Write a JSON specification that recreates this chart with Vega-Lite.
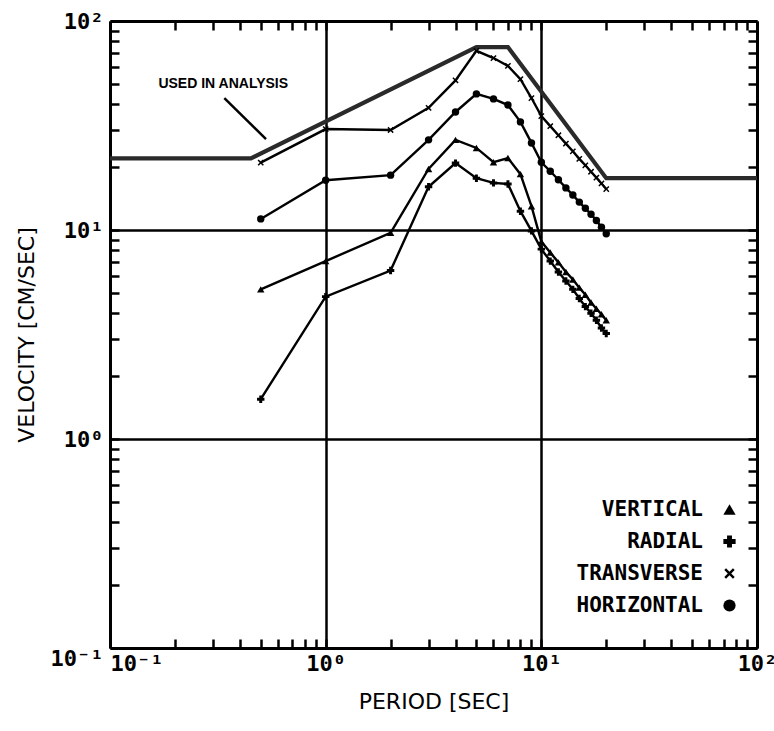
{
  "$schema": "https://vega.github.io/schema/vega-lite/v6.json",
  "width": 647,
  "height": 627,
  "autosize": {"type": "none"},
  "padding": {"left": 110, "top": 21, "right": 17, "bottom": 83},
  "background": "white",
  "config": {
    "view": {"stroke": null},
    "font": "Liberation Sans"
  },
  "datasets": {
    "envelope": [
      {"period": 0.1, "velocity": 22},
      {"period": 0.45, "velocity": 22},
      {"period": 5, "velocity": 75},
      {"period": 7, "velocity": 75},
      {"period": 20, "velocity": 17.7},
      {"period": 100, "velocity": 17.7}
    ],
    "spectra": [
      {"component": "TRANSVERSE", "period": 0.5, "velocity": 21},
      {"component": "TRANSVERSE", "period": 1, "velocity": 30.4},
      {"component": "TRANSVERSE", "period": 2, "velocity": 30.1},
      {"component": "TRANSVERSE", "period": 3, "velocity": 38.4},
      {"component": "TRANSVERSE", "period": 4, "velocity": 52},
      {"component": "TRANSVERSE", "period": 5, "velocity": 72},
      {"component": "TRANSVERSE", "period": 6, "velocity": 66.5},
      {"component": "TRANSVERSE", "period": 7, "velocity": 61},
      {"component": "TRANSVERSE", "period": 8, "velocity": 52.7},
      {"component": "TRANSVERSE", "period": 9, "velocity": 42.8},
      {"component": "TRANSVERSE", "period": 10, "velocity": 35.1},
      {"component": "TRANSVERSE", "period": 11, "velocity": 31.4},
      {"component": "TRANSVERSE", "period": 12, "velocity": 28.4},
      {"component": "TRANSVERSE", "period": 13, "velocity": 25.9},
      {"component": "TRANSVERSE", "period": 14, "velocity": 23.8},
      {"component": "TRANSVERSE", "period": 15, "velocity": 21.9},
      {"component": "TRANSVERSE", "period": 16, "velocity": 20.4},
      {"component": "TRANSVERSE", "period": 17, "velocity": 19.0},
      {"component": "TRANSVERSE", "period": 18, "velocity": 17.8},
      {"component": "TRANSVERSE", "period": 19, "velocity": 16.7},
      {"component": "TRANSVERSE", "period": 20, "velocity": 15.7},

      {"component": "HORIZONTAL", "period": 0.5, "velocity": 11.3},
      {"component": "HORIZONTAL", "period": 1, "velocity": 17.3},
      {"component": "HORIZONTAL", "period": 2, "velocity": 18.3},
      {"component": "HORIZONTAL", "period": 3, "velocity": 27.0},
      {"component": "HORIZONTAL", "period": 4, "velocity": 36.7},
      {"component": "HORIZONTAL", "period": 5, "velocity": 44.8},
      {"component": "HORIZONTAL", "period": 6, "velocity": 42.4},
      {"component": "HORIZONTAL", "period": 7, "velocity": 39.6},
      {"component": "HORIZONTAL", "period": 8, "velocity": 32.9},
      {"component": "HORIZONTAL", "period": 9, "velocity": 26.1},
      {"component": "HORIZONTAL", "period": 10, "velocity": 21.1},
      {"component": "HORIZONTAL", "period": 11, "velocity": 19.1},
      {"component": "HORIZONTAL", "period": 12, "velocity": 17.4},
      {"component": "HORIZONTAL", "period": 13, "velocity": 15.9},
      {"component": "HORIZONTAL", "period": 14, "velocity": 14.7},
      {"component": "HORIZONTAL", "period": 15, "velocity": 13.6},
      {"component": "HORIZONTAL", "period": 16, "velocity": 12.7},
      {"component": "HORIZONTAL", "period": 17, "velocity": 11.9},
      {"component": "HORIZONTAL", "period": 18, "velocity": 11.1},
      {"component": "HORIZONTAL", "period": 19, "velocity": 10.3},
      {"component": "HORIZONTAL", "period": 20, "velocity": 9.6},

      {"component": "VERTICAL", "period": 0.5, "velocity": 5.2},
      {"component": "VERTICAL", "period": 1, "velocity": 7.1},
      {"component": "VERTICAL", "period": 2, "velocity": 9.7},
      {"component": "VERTICAL", "period": 3, "velocity": 19.6},
      {"component": "VERTICAL", "period": 4, "velocity": 27.0},
      {"component": "VERTICAL", "period": 5, "velocity": 24.7},
      {"component": "VERTICAL", "period": 6, "velocity": 21.1},
      {"component": "VERTICAL", "period": 7, "velocity": 22.1},
      {"component": "VERTICAL", "period": 8, "velocity": 18.5},
      {"component": "VERTICAL", "period": 9, "velocity": 13.0},
      {"component": "VERTICAL", "period": 10, "velocity": 8.8},
      {"component": "VERTICAL", "period": 11, "velocity": 7.8},
      {"component": "VERTICAL", "period": 12, "velocity": 7.0},
      {"component": "VERTICAL", "period": 13, "velocity": 6.3},
      {"component": "VERTICAL", "period": 14, "velocity": 5.8},
      {"component": "VERTICAL", "period": 15, "velocity": 5.3},
      {"component": "VERTICAL", "period": 16, "velocity": 4.9},
      {"component": "VERTICAL", "period": 17, "velocity": 4.5},
      {"component": "VERTICAL", "period": 18, "velocity": 4.2},
      {"component": "VERTICAL", "period": 19, "velocity": 3.95},
      {"component": "VERTICAL", "period": 20, "velocity": 3.7},

      {"component": "RADIAL", "period": 0.5, "velocity": 1.55},
      {"component": "RADIAL", "period": 1, "velocity": 4.8},
      {"component": "RADIAL", "period": 2, "velocity": 6.4},
      {"component": "RADIAL", "period": 3, "velocity": 16.1},
      {"component": "RADIAL", "period": 4, "velocity": 20.9},
      {"component": "RADIAL", "period": 5, "velocity": 17.7},
      {"component": "RADIAL", "period": 6, "velocity": 16.8},
      {"component": "RADIAL", "period": 7, "velocity": 16.6},
      {"component": "RADIAL", "period": 8, "velocity": 12.3},
      {"component": "RADIAL", "period": 9, "velocity": 9.9},
      {"component": "RADIAL", "period": 10, "velocity": 8.1},
      {"component": "RADIAL", "period": 11, "velocity": 7.1},
      {"component": "RADIAL", "period": 12, "velocity": 6.3},
      {"component": "RADIAL", "period": 13, "velocity": 5.7},
      {"component": "RADIAL", "period": 14, "velocity": 5.2},
      {"component": "RADIAL", "period": 15, "velocity": 4.7},
      {"component": "RADIAL", "period": 16, "velocity": 4.3},
      {"component": "RADIAL", "period": 17, "velocity": 4.0},
      {"component": "RADIAL", "period": 18, "velocity": 3.7},
      {"component": "RADIAL", "period": 19, "velocity": 3.4},
      {"component": "RADIAL", "period": 20, "velocity": 3.2}
    ]
  },
  "resolve": {"axis": {"x": "independent", "y": "independent"}},
  "layer": [
    {
      "data": {"name": "envelope"},
      "mark": {"type": "line", "color": "#2a2a2a", "strokeWidth": 4.2},
      "encoding": {
        "x": {
          "field": "period", "type": "quantitative",
          "scale": {"type": "log", "domain": [0.1, 100], "nice": false},
          "axis": {
            "orient": "bottom",
            "values": [0.1, 0.2, 0.3, 0.4, 0.5, 0.6, 0.7, 0.8, 0.9, 1, 2, 3, 4, 5, 6, 7, 8, 9, 10, 20, 30, 40, 50, 60, 70, 80, 90, 100],
            "labelExpr": "datum.value == 0.1 ? '10⁻¹' : datum.value == 1 ? '10⁰' : datum.value == 10 ? '10¹' : datum.value == 100 ? '10²' : ''",
            "labelOverlap": false,
            "labelFlush": false,
            "labelAlign": {"condition": {"test": "datum.value == 0.1", "value": "left"}, "value": "center"},
            "labelFont": "DejaVu Sans Mono",
            "labelFontWeight": "bold",
            "labelFontSize": 22,
            "labelColor": "black",
            "labelPadding": 14,
            "ticks": true,
            "tickSize": -9,
            "tickWidth": 2.5,
            "tickColor": "black",
            "domainColor": "black",
            "domainWidth": 3,
            "grid": true,
            "gridColor": "black",
            "gridWidth": 2.5,
            "gridOpacity": {"condition": {"test": "datum.value == 1 || datum.value == 10", "value": 1}, "value": 0},
            "title": "PERIOD [SEC]",
            "titleFont": "DejaVu Sans",
            "titleFontWeight": "normal",
            "titleFontSize": 22,
            "titleColor": "black",
            "titlePadding": 17
          }
        },
        "y": {
          "field": "velocity", "type": "quantitative",
          "scale": {"type": "log", "domain": [0.1, 100], "nice": false},
          "axis": {
            "orient": "left",
            "values": [0.1, 0.2, 0.3, 0.4, 0.5, 0.6, 0.7, 0.8, 0.9, 1, 2, 3, 4, 5, 6, 7, 8, 9, 10, 20, 30, 40, 50, 60, 70, 80, 90, 100],
            "labelExpr": "datum.value == 0.1 ? '10⁻¹' : datum.value == 1 ? '10⁰' : datum.value == 10 ? '10¹' : datum.value == 100 ? '10²' : ''",
            "labelOverlap": false,
            "labelFlush": false,
            "labelBaseline": {"condition": {"test": "datum.value == 0.1", "value": "top"}, "value": "middle"},
            "labelFont": "DejaVu Sans Mono",
            "labelFontWeight": "bold",
            "labelFontSize": 22,
            "labelColor": "black",
            "labelPadding": 16,
            "ticks": true,
            "tickSize": -9,
            "tickWidth": 2.5,
            "tickColor": "black",
            "domainColor": "black",
            "domainWidth": 3,
            "grid": true,
            "gridColor": "black",
            "gridWidth": 2.5,
            "gridOpacity": {"condition": {"test": "datum.value == 1 || datum.value == 10", "value": 1}, "value": 0},
            "title": "VELOCITY [CM/SEC]",
            "titleFont": "DejaVu Sans",
            "titleFontWeight": "normal",
            "titleFontSize": 22,
            "titleColor": "black",
            "titlePadding": 12
          }
        }
      }
    },
    {
      "data": {"name": "spectra"},
      "mark": {"type": "line", "color": "black", "strokeWidth": 2.4},
      "encoding": {
        "x": {"field": "period", "type": "quantitative", "axis": null},
        "y": {"field": "velocity", "type": "quantitative", "axis": null},
        "detail": {"field": "component"}
      }
    },
    {
      "data": {"name": "spectra"},
      "mark": {"type": "point", "filled": true, "color": "black", "size": 55, "opacity": 1},
      "encoding": {
        "x": {
          "field": "period", "type": "quantitative",
          "axis": {
            "orient": "top",
            "values": [0.1, 0.2, 0.3, 0.4, 0.5, 0.6, 0.7, 0.8, 0.9, 1, 2, 3, 4, 5, 6, 7, 8, 9, 10, 20, 30, 40, 50, 60, 70, 80, 90, 100],
            "labels": false,
            "ticks": true,
            "tickSize": -9,
            "tickWidth": 2.5,
            "tickColor": "black",
            "domainColor": "black",
            "domainWidth": 3,
            "grid": false,
            "title": null
          }
        },
        "y": {
          "field": "velocity", "type": "quantitative",
          "axis": {
            "orient": "right",
            "values": [0.1, 0.2, 0.3, 0.4, 0.5, 0.6, 0.7, 0.8, 0.9, 1, 2, 3, 4, 5, 6, 7, 8, 9, 10, 20, 30, 40, 50, 60, 70, 80, 90, 100],
            "labels": false,
            "ticks": true,
            "tickSize": -9,
            "tickWidth": 2.5,
            "tickColor": "black",
            "domainColor": "black",
            "domainWidth": 3,
            "grid": false,
            "title": null
          }
        },
        "shape": {
          "field": "component", "type": "nominal",
          "scale": {
            "domain": ["VERTICAL", "RADIAL", "TRANSVERSE", "HORIZONTAL"],
            "range": [
              "triangle-up",
              "cross",
              "M0.566,-0.849L0.849,-0.566L0.283,0L0.849,0.566L0.566,0.849L0,0.283L-0.566,0.849L-0.849,0.566L-0.283,0L-0.849,-0.566L-0.566,-0.849L0,-0.283Z",
              "circle"
            ]
          },
          "legend": {
            "orient": "none",
            "legendX": 609,
            "legendY": 478,
            "title": null,
            "labelFont": "DejaVu Sans Mono",
            "labelFontWeight": "bold",
            "labelFontSize": 21,
            "labelColor": "black",
            "labelAlign": "right",
            "labelOffset": -37,
            "symbolSize": 150,
            "symbolFillColor": "black",
            "rowPadding": 10
          }
        }
      }
    },
    {
      "data": {"values": [{}]},
      "mark": {"type": "rule", "color": "black", "strokeWidth": 2.5},
      "encoding": {
        "x": {"datum": 0.339, "type": "quantitative", "axis": null},
        "y": {"datum": 42.8, "type": "quantitative", "axis": null},
        "x2": {"datum": 0.529},
        "y2": {"datum": 27.2}
      }
    },
    {
      "data": {"values": [{}]},
      "mark": {"type": "text", "text": "USED IN ANALYSIS", "font": "Liberation Sans", "fontWeight": "bold", "fontSize": 14, "color": "black", "align": "center", "baseline": "middle"},
      "encoding": {
        "x": {"datum": 0.335, "type": "quantitative", "axis": null},
        "y": {"datum": 50, "type": "quantitative", "axis": null}
      }
    }
  ]
}
